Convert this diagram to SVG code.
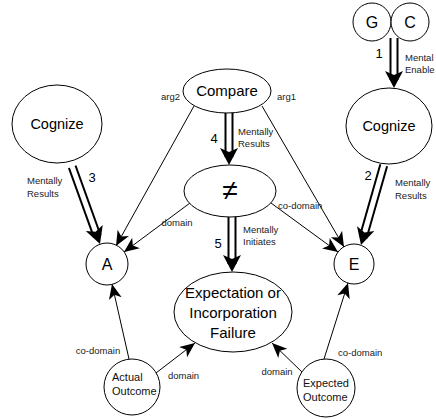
<svg xmlns="http://www.w3.org/2000/svg" width="436" height="419" viewBox="0 0 436 419">
<style>
.n{fill:#fff;stroke:#000;stroke-width:1}
.t{font-family:"Liberation Sans",Arial,sans-serif;font-size:15px;fill:#000;text-anchor:middle}
.l{font-family:"Liberation Sans",Arial,sans-serif;font-size:9.5px;fill:#222}
.o{font-family:"Liberation Sans",Arial,sans-serif;font-size:11px;fill:#111}
.num{font-family:"Liberation Sans",Arial,sans-serif;font-size:13px;fill:#000;text-anchor:middle}
.c{stroke:#000;stroke-width:1;fill:none;marker-end:url(#ah)}
.d1{stroke:#000;stroke-width:9;fill:none}
.d2{stroke:#fff;stroke-width:5;fill:none}
.dh{fill:#000;stroke:none}
</style>
<defs>
<marker id="ah" markerUnits="userSpaceOnUse" markerWidth="20" markerHeight="20" refX="0" refY="0" orient="auto" overflow="visible">
<path d="M0,0 L-15,-6.5 L-11,0 L-15,6.5 Z" fill="#000"/>
</marker>
</defs>
<g id="connectors">
<line class="c" x1="194" y1="106" x2="116" y2="246"/>
<line class="c" x1="262" y1="106" x2="344" y2="247"/>
<line class="c" x1="190" y1="203" x2="124" y2="252"/>
<line class="c" x1="271" y1="203" x2="338" y2="252"/>
<line class="c" x1="129" y1="359" x2="112" y2="284"/>
<line class="c" x1="156" y1="373" x2="195" y2="343"/>
<line class="c" x1="324" y1="359" x2="348" y2="283"/>
<line class="c" x1="302" y1="372" x2="272" y2="343"/>
<g id="dbl1"><line class="d1" x1="394" y1="38" x2="394" y2="80"/><line class="d2" x1="394" y1="36" x2="394" y2="76"/><path class="dh" d="M394,88 L385,71 L394,75 L403,71 Z"/></g>
<g id="dbl4"><line class="d1" x1="229" y1="113" x2="229" y2="157"/><line class="d2" x1="229" y1="111" x2="229" y2="153"/><path class="dh" d="M229,165 L220,148 L229,152 L238,148 Z"/></g>
<g id="dbl5"><line class="d1" x1="232" y1="217" x2="232" y2="264"/><line class="d2" x1="232" y1="215" x2="232" y2="260"/><path class="dh" d="M232,272 L223,255 L232,259 L241,255 Z"/></g>
<g id="dbl3" transform="rotate(-19.8 100 244)"><line class="d1" x1="100" y1="162" x2="100" y2="236"/><line class="d2" x1="100" y1="160" x2="100" y2="232"/><path class="dh" d="M100,244 L91,227 L100,231 L109,227 Z"/></g>
<g id="dbl2" transform="rotate(15.9 361 245)"><line class="d1" x1="361" y1="162" x2="361" y2="237"/><line class="d2" x1="361" y1="160" x2="361" y2="233"/><path class="dh" d="M361,245 L352,228 L361,232 L370,228 Z"/></g>
</g>
<g id="labels">
<text class="l" x="180" y="100" text-anchor="end">arg2</text>
<text class="l" x="277" y="100">arg1</text>
<text class="num" x="214" y="143">4</text>
<text class="l" x="238" y="135">Mentally</text>
<text class="l" x="238" y="147">Results</text>
<text class="l" x="177" y="226" text-anchor="middle">domain</text>
<text class="l" x="278" y="209">co-domain</text>
<text class="num" x="218" y="248">5</text>
<text class="l" x="243" y="233">Mentally</text>
<text class="l" x="243" y="245">Initiates</text>
<text class="num" x="92" y="182">3</text>
<text class="l" x="27" y="184">Mentally</text>
<text class="l" x="27" y="197">Results</text>
<text class="num" x="368" y="180">2</text>
<text class="l" x="395" y="186">Mentally</text>
<text class="l" x="395" y="199">Results</text>
<text class="num" x="379" y="58">1</text>
<text class="l" x="405" y="61">Mental</text>
<text class="l" x="405" y="73">Enable</text>
<text class="l" x="98" y="354" text-anchor="middle">co-domain</text>
<text class="l" x="168" y="379">domain</text>
<text class="l" x="277" y="375" text-anchor="middle">domain</text>
<text class="l" x="338" y="356">co-domain</text>
</g>
<g id="G"><circle class="n" cx="372" cy="22" r="19"/><text class="t" x="372" y="28" style="font-size:16px">G</text></g>
<g id="C"><circle class="n" cx="410" cy="22" r="19"/><text class="t" x="410" y="28" style="font-size:16px">C</text></g>
<g id="cognize-right"><ellipse class="n" cx="389" cy="126" rx="43" ry="38"/><text class="t" x="389" y="131" style="font-size:14.5px">Cognize</text></g>
<g id="cognize-left"><ellipse class="n" cx="57" cy="124" rx="45" ry="39"/><text class="t" x="57" y="129" style="font-size:14.5px">Cognize</text></g>
<g id="compare"><ellipse class="n" cx="227" cy="91" rx="44" ry="22"/><text class="t" x="227" y="96">Compare</text></g>
<g id="neq"><ellipse class="n" cx="230" cy="191" rx="46" ry="26"/><text class="t" x="230" y="200" style="font-size:28px">≠</text></g>
<g id="A"><circle class="n" cx="107" cy="264" r="21"/><text class="t" x="107" y="270" style="font-size:16px">A</text></g>
<g id="E"><circle class="n" cx="354" cy="264" r="20"/><text class="t" x="354" y="270" style="font-size:16px">E</text></g>
<g id="failure"><ellipse class="n" cx="233" cy="312" rx="59" ry="40"/><text class="t" x="233" y="298">Expectation or</text><text class="t" x="233" y="318">Incorporation</text><text class="t" x="233" y="338">Failure</text></g>
<g id="actual"><circle class="n" cx="132" cy="387" r="28"/><text class="o" x="112" y="381">Actual</text><text class="o" x="112" y="395">Outcome</text></g>
<g id="expected"><circle class="n" cx="326" cy="388" r="29"/><text class="o" x="303" y="387">Expected</text><text class="o" x="303" y="401">Outcome</text></g>
</svg>
